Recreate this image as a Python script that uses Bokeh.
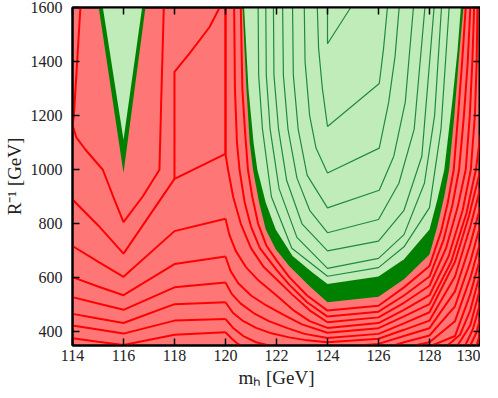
from bokeh.plotting import figure
from bokeh.models import LinearAxis, FixedTicker
from bokeh.embed import file_html
from bokeh.resources import INLINE

# ---------------- data ----------------
x_ticks = [114, 116, 118, 120, 122, 124, 126, 128, 130]
y_ticks = [400, 600, 800, 1000, 1200, 1400, 1600]

# left valley: 95% (dark green) and 68% (light green) regions
vl_outer_x = [115.03, 116.0, 116.86]
vl_outer_y = [1600, 988, 1600]
vl_inner_x = [115.19, 116.0, 116.73]
vl_inner_y = [1600, 1111, 1600]

# right basin
bs_outer_x = [120.67, 120.82, 120.95, 121.08, 121.32, 121.58, 121.97, 122.5, 123.28, 124.0,
              126.0, 127.0, 128.0, 128.31, 128.58, 128.77, 128.97, 129.16, 129.33]
bs_outer_y = [1600, 1300, 1100, 1000, 878, 779, 706, 644, 571, 510,
              530, 595, 687, 791, 902, 1000, 1196, 1421, 1600]
bs_inner_x = [120.73, 120.9, 121.1, 121.25, 121.58, 121.97, 122.63, 123.41, 124.0,
              126.0, 127.0, 128.0, 128.31, 128.58, 128.9, 129.1, 129.23]
bs_inner_y = [1600, 1300, 1100, 1000, 878, 779, 681, 620, 577,
              605, 669, 779, 890, 1000, 1258, 1442, 1600]

# red contour lines (left family)
red_x = [
    [114.31, 114.17, 114.05, 114.0, 114.15, 114.51, 115.19, 115.6, 116.0, 116.76, 117.41, 117.48, 117.58],
    [114.0, 115.0, 116.0, 118.0, 120.0, 120.0],
    [118.0, 118.0, 118.59, 119.37, 119.77],
    [114.0, 115.0, 116.0, 118.0, 120.0],
    [114.0, 115.0, 116.0, 118.0, 120.0],
    [114.0, 115.0, 116.0, 118.0, 120.0],
    [114.0, 115.0, 116.0, 118.0, 120.0],
    [114.0, 115.0, 116.0, 118.0, 120.0],
    [114.0, 115.0, 116.0, 118.0, 120.0],
]
red_y = [
    [1600, 1380, 1196, 1165, 1120, 1074, 1000, 900, 806, 902, 1000, 1258, 1600],
    [890, 795, 690, 966, 1059, 1600],
    [966, 1362, 1430, 1527, 1600],
    [718, 660, 604, 773, 819],
    [603, 568, 536, 651, 679],
    [529, 505, 482, 565, 583],
    [467, 450, 433, 503, 510],
    [424, 409, 394, 442, 448],
    [377, 364, 352, 390, 399],
]

# red contour lines wrapping round the right basin
ring_x = [
    [120.6, 120.66, 120.76, 120.88, 121.05, 121.28, 121.6, 122.0, 122.5, 123.2, 124.0,
     126.0, 127.0, 128.0, 128.45, 128.72, 128.95, 129.12, 129.28, 129.42],
    [120.34, 120.37, 120.45, 120.55, 120.75, 121.0, 121.35, 122.0, 122.5, 123.2, 124.0,
     126.0, 127.0, 128.0, 128.55, 128.9, 129.16, 129.35, 129.5, 129.6],
    [120.0, 120.0, 120.1, 120.3, 120.6, 121.0, 121.5, 122.0, 122.6, 123.3, 124.0,
     126.0, 127.0, 128.0, 128.65, 129.1, 129.42, 129.58, 129.68, 129.75],
    [120.0, 120.15, 120.4, 120.8, 121.3, 122.0, 122.7, 123.3, 124.0,
     126.0, 127.0, 128.0, 128.75, 129.3, 129.62, 129.78, 129.85, 129.88],
    [120.0, 120.2, 120.5, 121.0, 121.6, 122.3, 123.0, 124.0,
     126.0, 127.0, 128.0, 128.85, 129.45, 129.82, 130.0],
    [120.0, 120.25, 120.6, 121.1, 121.7, 122.4, 123.1, 124.0,
     126.0, 127.0, 128.0, 129.0, 129.55, 130.0],
    [120.0, 120.3, 120.7, 121.2, 121.8, 122.5, 123.2, 124.0,
     126.0, 127.0, 128.0, 129.0, 129.6, 130.0],
    [120.0, 120.3, 120.7, 121.2, 121.7],
    [125.2, 126.0, 127.0, 128.0, 129.0, 129.6, 130.0],
    [120.0, 120.25, 120.5, 120.6],
    [126.6, 127.0, 128.0, 129.0, 129.6, 130.0],
    [127.4, 128.0, 129.0, 129.6, 130.0],
    [128.1, 129.0, 129.6, 130.0],
    [128.7, 129.2, 129.6, 130.0],
    [129.1, 129.6, 130.0],
    [129.4, 129.7, 130.0],
    [129.6, 129.85, 130.0],
    [129.85, 130.0],
]
ring_y = [
    [1600, 1300, 1150, 1000, 900, 800, 720, 665, 603, 535, 479,
     497, 565, 644, 770, 880, 1000, 1200, 1400, 1600],
    [1600, 1300, 1100, 1000, 880, 790, 710, 630, 575, 510, 457,
     475, 535, 605, 740, 870, 1000, 1200, 1400, 1600],
    [1600, 1059, 1000, 900, 800, 710, 640, 595, 540, 480, 436,
     454, 508, 571, 710, 860, 1000, 1200, 1400, 1600],
    [819, 760, 700, 640, 590, 535, 478, 440, 415,
     433, 482, 536, 680, 850, 1000, 1200, 1400, 1600],
    [679, 625, 580, 535, 498, 462, 428, 397,
     414, 458, 503, 660, 840, 1000, 1130],
    [583, 540, 505, 470, 440, 415, 393, 378,
     393, 432, 473, 660, 830, 1000],
    [510, 470, 440, 415, 395, 380, 369, 362,
     375, 408, 442, 605, 790, 934],
    [448, 415, 385, 362, 350],
    [350, 356, 385, 414, 550, 725, 864],
    [399, 375, 355, 350],
    [350, 362, 387, 495, 660, 798],
    [350, 362, 440, 600, 735],
    [350, 385, 540, 677],
    [350, 390, 480, 621],
    [350, 425, 566],
    [350, 410, 511],
    [350, 400, 456],
    [350, 401],
]

# green contour lines inside the basin
grn_x = [
    [124.0, 124.0, 124.91],
    [123.6, 123.65, 123.8, 124.0, 126.03, 126.2, 126.35],
    [123.09, 123.12, 123.3, 123.55, 124.0, 126.03, 126.4, 126.65, 126.81],
    [122.63, 122.66, 122.85, 123.2, 124.0, 126.03, 126.6, 127.05, 127.37],
    [122.24, 122.27, 122.45, 122.8, 123.3, 124.0, 126.0, 126.8, 127.4, 127.82],
    [121.88, 121.9, 122.08, 122.4, 123.0, 124.0, 126.0, 127.0, 127.7, 128.18],
    [121.58, 121.6, 121.75, 122.1, 122.8, 124.0, 126.0, 127.0, 127.8, 128.2, 128.47],
    [121.28, 121.3, 121.45, 121.8, 122.6, 124.0, 126.0, 127.0, 128.0, 128.45, 128.77],
]
grn_y = [
    [1600, 1466, 1600],
    [1600, 1450, 1300, 1160, 1319, 1450, 1600],
    [1600, 1400, 1200, 1080, 988, 1080, 1250, 1420, 1600],
    [1600, 1350, 1150, 980, 859, 924, 1050, 1250, 1600],
    [1600, 1350, 1150, 970, 850, 767, 816, 950, 1150, 1600],
    [1600, 1350, 1150, 960, 800, 700, 736, 850, 1050, 1600],
    [1600, 1350, 1150, 930, 750, 635, 672, 760, 950, 1200, 1600],
    [1600, 1350, 1150, 900, 710, 606, 638, 715, 860, 1150, 1600],
]

# ---------------- styling ----------------
RED_FILL = "#ff7676"
RED_LINE = "#ff0000"
DARK_G = "#008000"
LIGHT_G = "#c0ecb9"
G_LINE = "#1f8a3c"
FONT = "Liberation Serif"

p = figure(frame_width=408, frame_height=338, x_range=(114, 130), y_range=(350, 1600),
           output_backend="svg", toolbar_location=None,
           min_border_left=70, min_border_right=0, min_border_top=7, min_border_bottom=0,
           background_fill_color=RED_FILL, border_fill_color="white")
p.grid.visible = False
p.outline_line_color = "black"
p.outline_line_width = 2

p.patch(vl_outer_x, vl_outer_y, fill_color=DARK_G, line_color=None)
p.patch(vl_inner_x, vl_inner_y, fill_color=LIGHT_G, line_color=None)
p.patch(bs_outer_x, bs_outer_y, fill_color=DARK_G, line_color=None)
p.patch(bs_inner_x, bs_inner_y, fill_color=LIGHT_G, line_color=None)

p.multi_line(grn_x, grn_y, line_color=G_LINE, line_width=1.2)
p.multi_line(red_x, red_y, line_color=RED_LINE, line_width=2)
p.multi_line(ring_x, ring_y, line_color=RED_LINE, line_width=2)

for ax in p.xaxis:
    ax.ticker = FixedTicker(ticks=x_ticks)
for ax in p.yaxis:
    ax.ticker = FixedTicker(ticks=y_ticks)

for ax in list(p.xaxis) + list(p.yaxis):
    ax.major_tick_in = 7
    ax.major_tick_out = 0
    ax.minor_tick_in = 0
    ax.minor_tick_out = 0
    ax.major_tick_line_width = 1.5
    ax.axis_line_width = 2
    ax.major_label_text_font = FONT
    ax.major_label_text_font_size = "16px"
    ax.major_label_text_color = "#222222"
    ax.axis_label_text_font = FONT
    ax.axis_label_text_font_size = "19px"
    ax.axis_label_text_font_style = "normal"
    ax.axis_label_text_color = "#222222"

p.xaxis.axis_label = "mₕ [GeV]"
p.yaxis.axis_label = "R⁻¹ [GeV]"
p.xaxis.major_label_standoff = 4
p.yaxis.major_label_standoff = 10
p.xaxis.axis_label_standoff = 3
p.yaxis.axis_label_standoff = 3

top = LinearAxis(ticker=FixedTicker(ticks=x_ticks), major_label_overrides={t: "" for t in x_ticks})
right = LinearAxis(ticker=FixedTicker(ticks=y_ticks), major_label_overrides={t: "" for t in y_ticks})
for ax in (top, right):
    ax.major_tick_in = 7
    ax.major_tick_out = 0
    ax.minor_tick_in = 0
    ax.minor_tick_out = 0
    ax.major_tick_line_width = 1.5
    ax.axis_line_width = 2
    ax.major_label_standoff = 0
    ax.major_label_text_font_size = "1px"
p.add_layout(top, "above")
p.add_layout(right, "right")

open("out.html", "w").write(file_html(p, INLINE))
